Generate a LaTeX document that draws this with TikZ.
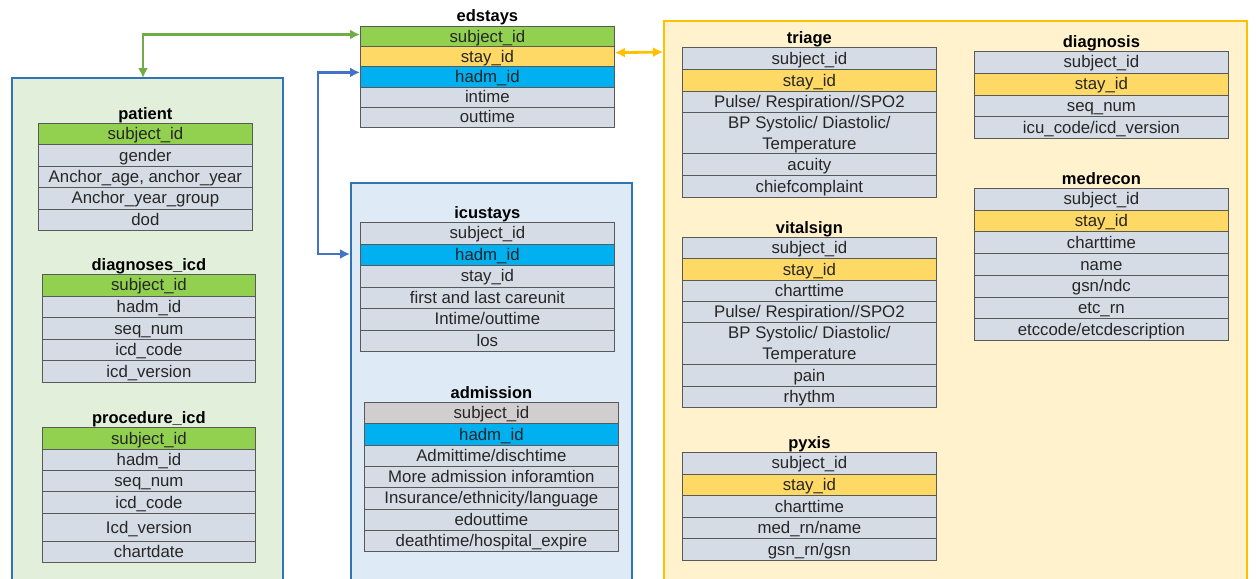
\documentclass[tikz,border=0pt]{standalone}
\usepackage{fontspec}
\setmainfont{Liberation Sans}
\usetikzlibrary{arrows.meta}

\definecolor{keygreen}{HTML}{92D050}
\definecolor{keyyellow}{HTML}{FFD966}
\definecolor{keyblue}{HTML}{00B0F0}
\definecolor{cellgrey}{HTML}{D6DCE5}
\definecolor{cellwarm}{HTML}{D0CECE}
\definecolor{rowline}{HTML}{595959}
\definecolor{txt}{HTML}{262626}
\definecolor{panelgreen}{HTML}{E2EFDA}
\definecolor{panelblue}{HTML}{DEEBF7}
\definecolor{panelyellow}{HTML}{FFF2CC}
\definecolor{edgeblue}{HTML}{2E75B6}
\definecolor{edgeyellow}{HTML}{FFC000}
\definecolor{arrgreen}{HTML}{70AD47}
\definecolor{arrblue}{HTML}{4472C4}

\begin{document}
\begin{tikzpicture}[x=1pt, y=-1pt,
    field/.style={draw=rowline, line width=0.8pt, text=txt, inner sep=0pt, anchor=north west,
      align=center, text height=13.6pt, text depth=2.3pt, font=\fontsize{16.8}{21}\selectfont},
    tworow/.style={text height=34.6pt},
    tabletitle/.style={anchor=base, inner sep=0pt, font=\fontsize{16.5}{20}\selectfont\bfseries},
    panel/.style={line width=1.5pt},
    link/.style={line width=2.8pt, >={Latex[length=10pt,width=10pt]}}]
    \useasboundingbox (0,0) rectangle (1257,578);
    \clip (0,0) rectangle (1257,578);

    % panels
    \draw[panel, draw=edgeblue, fill=panelgreen] (12,78) rectangle (283,600);
    \draw[panel, draw=edgeblue, fill=panelblue] (351,183) rectangle (632,600);
    \draw[panel, draw=edgeyellow, fill=panelyellow] (664,21) rectangle (1247,600);

    % edstays
    \foreach \c/\t [count=\i from 0] in {keygreen/subject\_id, keyyellow/stay\_id, keyblue/hadm\_id, cellgrey/intime, cellgrey/outtime}
        \node[field, fill=\c, minimum width=254, minimum height=20.2] (ed\i) at (360,26+\i*20.2) {\t};
    \node[tabletitle] (edstays) at ([yshift=4pt]ed0.north) {edstays};

    % patient
    \foreach \c/\t [count=\i from 0] in {keygreen/subject\_id, cellgrey/gender, cellgrey/{Anchor\_age, anchor\_year}, cellgrey/Anchor\_year\_group, cellgrey/dod}
        \node[field, fill=\c, minimum width=214, minimum height=21.4] (pat\i) at (38,123+\i*21.4) {\t};
    \node[tabletitle] (patient) at ([yshift=3.5pt]pat0.north) {patient};

    % diagnoses_icd
    \foreach \c/\t [count=\i from 0] in {keygreen/subject\_id, cellgrey/hadm\_id, cellgrey/seq\_num, cellgrey/icd\_code, cellgrey/icd\_version}
        \node[field, fill=\c, minimum width=213, minimum height=21.6] (dx\i) at (42,274+\i*21.6) {\t};
    \node[tabletitle] (diagicd) at ([yshift=3.5pt]dx0.north) {diagnoses\_icd};

    % procedure_icd
    \foreach \y/\h/\c/\t [count=\i from 0] in {427/22/keygreen/subject\_id, 449/21/cellgrey/hadm\_id, 470/21/cellgrey/seq\_num,
            491/22/cellgrey/icd\_code, 513/28/cellgrey/Icd\_version, 541/21/cellgrey/chartdate}
        \node[field, fill=\c, minimum width=213, minimum height=\h] (pr\i) at (42,\y) {\t};
    \node[tabletitle] (procicd) at ([yshift=3.5pt]pr0.north) {procedure\_icd};

    % icustays
    \foreach \c/\t [count=\i from 0] in {cellgrey/subject\_id, keyblue/hadm\_id, cellgrey/stay\_id, cellgrey/first and last careunit,
            cellgrey/{Intime/outtime}, cellgrey/los}
        \node[field, fill=\c, minimum width=254, minimum height=21.5] (icu\i) at (360,222+\i*21.5) {\t};
    \node[tabletitle] (icustays) at ([yshift=3.5pt]icu0.north) {icustays};

    % admission
    \foreach \c/\t [count=\i from 0] in {cellwarm/subject\_id, keyblue/hadm\_id, cellgrey/{Admittime/dischtime}, cellgrey/More admission inforamtion,
            cellgrey/{Insurance/ethnicity/language}, cellgrey/edouttime, cellgrey/{deathtime/hospital\_expire}}
        \node[field, fill=\c, minimum width=254, minimum height=21.3] (adm\i) at (364,402+\i*21.3) {\t};
    \node[tabletitle] (admission) at ([yshift=3.5pt]adm0.north) {admission};

    % triage
    \foreach \y/\h/\c/\t [count=\i from 0] in {47/22/cellgrey/subject\_id, 69/22/keyyellow/stay\_id, 91/21/cellgrey/{Pulse/ Respiration//SPO2},
            153/22/cellgrey/acuity, 175/22/cellgrey/chiefcomplaint}
        \node[field, fill=\c, minimum width=254, minimum height=\h] (tri\i) at (682,\y) {\t};
    \node[field, tworow, fill=cellgrey, minimum width=254, minimum height=41] (tri5) at (682,112) {BP Systolic/ Diastolic/\\Temperature};
    \node[tabletitle] (triage) at ([yshift=3.5pt]tri0.north) {triage};

    % vitalsign
    \foreach \y/\h/\c/\t [count=\i from 0] in {237/21/cellgrey/subject\_id, 258/22/keyyellow/stay\_id, 280/21/cellgrey/charttime,
            301/21/cellgrey/{Pulse/ Respiration//SPO2}, 364/22/cellgrey/pain, 386/21/cellgrey/rhythm}
        \node[field, fill=\c, minimum width=254, minimum height=\h] (vit\i) at (682,\y) {\t};
    \node[field, tworow, fill=cellgrey, minimum width=254, minimum height=42] (vit6) at (682,322) {BP Systolic/ Diastolic/\\Temperature};
    \node[tabletitle] (vitalsign) at ([yshift=3.5pt]vit0.north) {vitalsign};

    % pyxis
    \foreach \c/\t [count=\i from 0] in {cellgrey/subject\_id, keyyellow/stay\_id, cellgrey/charttime, cellgrey/{med\_rn/name}, cellgrey/{gsn\_rn/gsn}}
        \node[field, fill=\c, minimum width=254, minimum height=21.6] (pyx\i) at (682,452+\i*21.6) {\t};
    \node[tabletitle] (pyxis) at ([yshift=3.5pt]pyx0.north) {pyxis};

    % diagnosis
    \foreach \c/\t [count=\i from 0] in {cellgrey/subject\_id, keyyellow/stay\_id, cellgrey/seq\_num, cellgrey/{icu\_code/icd\_version}}
        \node[field, fill=\c, minimum width=254, minimum height=21.75] (edx\i) at (974,51+\i*21.75) {\t};
    \node[tabletitle] (diagnosis) at ([yshift=3.5pt]edx0.north) {diagnosis};

    % medrecon
    \foreach \c/\t [count=\i from 0] in {cellgrey/subject\_id, keyyellow/stay\_id, cellgrey/charttime, cellgrey/name,
            cellgrey/{gsn/ndc}, cellgrey/etc\_rn, cellgrey/{etccode/etcdescription}}
        \node[field, fill=\c, minimum width=254, minimum height=21.7] (med\i) at (974,188+\i*21.7) {\t};
    \node[tabletitle] (medrecon) at ([yshift=3.5pt]med0.north) {medrecon};

    % links
    \coordinate (patTop) at (143,78);
    \coordinate (icuSide) at (350,254);
    \coordinate (edSide) at (663,52);
    \draw[link, arrgreen, <->] ([yshift=2pt]ed0.west) -| (patTop);
    \draw[link, arrblue, <->] ([yshift=4.5pt]ed2.west) -- ++(-42,0) |- (icuSide);
    \draw[link, edgeyellow, <->] ([yshift=4pt]ed1.east) -- (edSide);
\end{tikzpicture}
\end{document}
